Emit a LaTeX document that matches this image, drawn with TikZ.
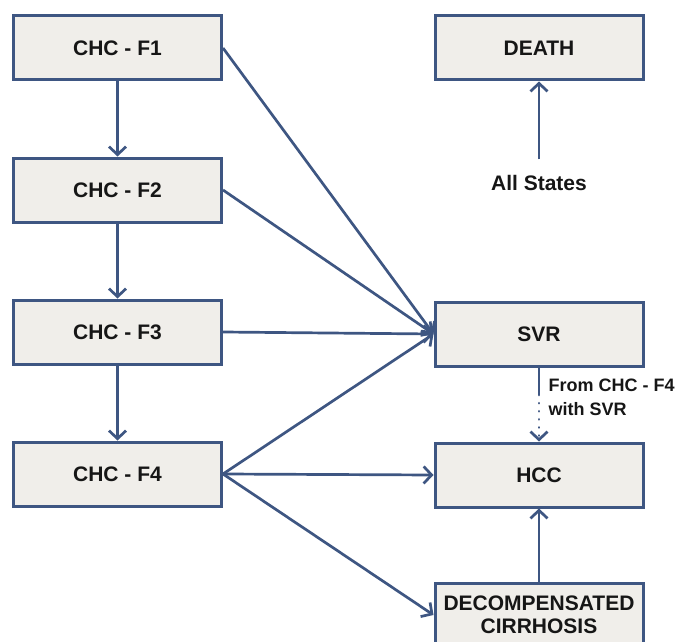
\documentclass[tikz,border=0pt]{standalone}
\usepackage{fontspec}
\setmainfont{Liberation Sans}
\usetikzlibrary{arrows.meta, positioning}
\definecolor{linkblue}{HTML}{3E5682}
\definecolor{boxfill}{HTML}{F0EEEA}
\definecolor{txtgray}{HTML}{161616}

\begin{document}
\begin{tikzpicture}[x=1pt, y=-1pt,
		state/.style={draw=linkblue, line width=3pt, fill=boxfill, minimum width=208pt, minimum height=64pt, inner sep=1pt, align=center, text=txtgray, font=\fontsize{21}{23}\selectfont\bfseries},
		link/.style={draw=linkblue, line width=2.7pt, -{Straight Barb[length=8pt, width=17pt]}},
		note/.style={text=txtgray, align=left, font=\fontsize{18}{24}\selectfont\bfseries}]
		\useasboundingbox (0,0) rectangle (681,642);
		\clip (0,0) rectangle (681,642);
		% fibrosis stages
		\node[state] (f1) at (117.5,48) {CHC - F1};
		\node[state] (f2) at (117.5,190) {CHC - F2};
		\node[state] (f3) at (117.5,332) {CHC - F3};
		\node[state] (f4) at (117.5,474) {CHC - F4};
		% outcome states
		\node[state] (death) at (539,48) {DEATH};
		\node[state] (svr) at (539,334) {SVR};
		\node[state] (hcc) at (539,475) {HCC};
		\node[state] (dec) at (539,615) {DECOMPENSATED\\CIRRHOSIS};
		% labels:
		\node[state, draw=none, fill=none, minimum width=0pt, minimum height=0pt, inner sep=3pt, outer ysep=13pt] (all) at (539,183) {All States};
		\node[note, anchor=west] (from) at (545,397) {From CHC - F4\\with SVR};
		% progression arrows
		\draw[link] (f1) -- (f2);
		\draw[link] (f2) -- (f3);
		\draw[link] (f3) -- (f4);
		% arrows to SVR
		\foreach \s in {f1,f2,f3,f4}{
			\draw[link] (\s.east) -- (svr.west);
		}
		\draw[link] (f4.east) -- (hcc.west);
		\draw[link] (f4.east) -- (dec.west);
		\draw[link] (dec) -- (hcc);
		\draw[link] (all) -- (death);
		% SVR to HCC, partly dotted
		\coordinate (brk) at (svr.south |- 0,395);
		\draw[draw=linkblue, line width=2.7pt] (svr.south) -- (brk);
		\draw[link, line cap=round, dash pattern=on 0.1pt off 8pt] (brk) -- (hcc.north);
	\end{tikzpicture}
\end{document}
